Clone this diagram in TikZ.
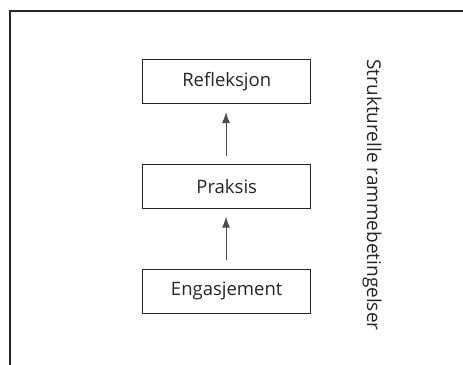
\documentclass[tikz,border=0pt]{standalone}
\usepackage{fontspec}
\setmainfont{Open Sans}
\usetikzlibrary{arrows.meta}
\begin{document}
\begin{tikzpicture}[x=1pt,y=-1pt,
  stepbox/.style={draw=black!85, line width=0.9pt, minimum width=168pt, minimum height=44pt, inner sep=0pt, font=\fontsize{18.5}{20}\selectfont, text=black!85},
  conn/.style={draw=black!70, line width=1pt, -{Latex[length=11pt,width=8pt]}}]
\useasboundingbox (0,0) rectangle (463,364);
\begin{scope}
\clip (0,0) rectangle (463,364);
\draw[line width=1.8pt, black!85] (10,380) -- (10,11) -- (480,11);
\end{scope}
\node[stepbox] (r) at (226.7,81.8) {Refleksjon};
\node[stepbox] (p) at (226.7,186.5) {Praksis};
\node[stepbox] (e) at (226.7,291.3) {Engasjement};
\coordinate (p1) at (226,155.7);
\coordinate (t1) at (226,112);
\coordinate (p2) at (226,260.3);
\coordinate (t2) at (226,216.7);
\draw[conn] (p1) -- (t1);
\draw[conn] (p2) -- (t2);
\node[rotate=-90, font=\fontsize{19}{21}\selectfont, text=black!85, inner sep=0pt] (s) at (372,195) {Strukturelle rammebetingelser};
\end{tikzpicture}
\end{document}
